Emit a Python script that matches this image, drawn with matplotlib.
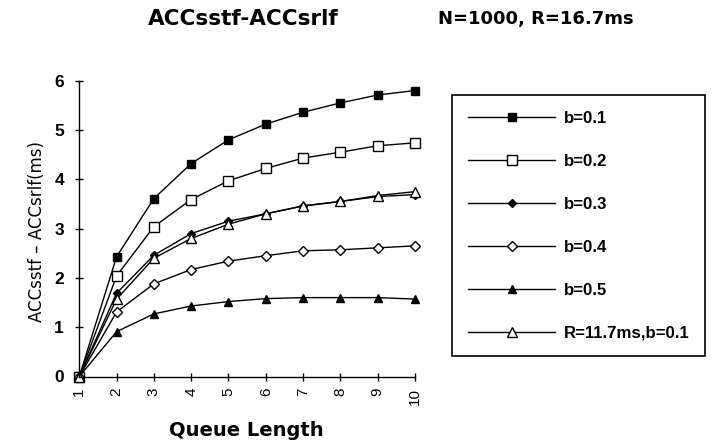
import matplotlib
matplotlib.use("Agg")
import matplotlib.pyplot as plt

# ---- data ----
queue_length = [1, 2, 3, 4, 5, 6, 7, 8, 9, 10]
b01 = [0, 2.43, 3.61, 4.32, 4.80, 5.12, 5.36, 5.55, 5.71, 5.80]
b02 = [0, 2.04, 3.04, 3.59, 3.97, 4.22, 4.43, 4.55, 4.68, 4.74]
b03 = [0, 1.69, 2.46, 2.90, 3.15, 3.30, 3.46, 3.55, 3.65, 3.69]
b04 = [0, 1.31, 1.88, 2.17, 2.34, 2.45, 2.55, 2.57, 2.61, 2.65]
b05 = [0, 0.91, 1.27, 1.43, 1.52, 1.58, 1.60, 1.60, 1.60, 1.57]
r117_b01 = [0, 1.57, 2.40, 2.80, 3.09, 3.30, 3.46, 3.55, 3.67, 3.75]
labels = ["b=0.1", "b=0.2", "b=0.3", "b=0.4", "b=0.5", "R=11.7ms,b=0.1"]
y_ticks = [0, 1, 2, 3, 4, 5, 6]

W, H = 719, 445
fig = plt.figure(figsize=(W / 100, H / 100), dpi=100)
ax = fig.add_axes([79.3 / W, 1 - 376.5 / H, (415 - 79.3) / W, (376.5 - 80.7) / H])

series = [b01, b02, b03, b04, b05, r117_b01]
styles = [
    dict(marker="s", mfc="black", ms=6),
    dict(marker="s", mfc="white", ms=7),
    dict(marker="D", mfc="black", ms=4.5),
    dict(marker="D", mfc="white", ms=5.5),
    dict(marker="^", mfc="black", ms=6),
    dict(marker="^", mfc="white", ms=7),
]
for ys, lab, st in zip(series, labels, styles):
    ax.plot(queue_length, ys, color="black", lw=1.0, mec="black", mew=1.0,
            label=lab, clip_on=False, **st)

ax.set_xlim(1, 10)
ax.set_ylim(0, 6)
ax.set_xticks(queue_length)
ax.set_xticklabels([str(q) for q in queue_length], rotation=90,
                   fontfamily="Liberation Sans", fontsize=11)
ax.set_yticks(y_ticks)
ax.set_yticklabels([str(t) for t in y_ticks], fontfamily="Liberation Sans",
                   fontsize=12.5, fontweight="bold")
ax.tick_params(axis="both", direction="inout", length=6, width=1, color="black")
ax.tick_params(axis="x", pad=5)
ax.tick_params(axis="y", pad=8)
for s in ["top", "right"]:
    ax.spines[s].set_visible(False)
for s in ["left", "bottom"]:
    ax.spines[s].set_linewidth(1.0)

fig.text(37 / W, 1 - 232 / H, "ACCsstf – ACCsrlf(ms)", rotation=90,
         ha="center", va="center", fontfamily="DejaVu Sans", fontsize=12)
fig.text(246 / W, 1 - 431 / H, "Queue Length", ha="center", va="center",
         fontfamily="DejaVu Sans", fontsize=14, fontweight="bold")
fig.text(243 / W, 1 - 19 / H, "ACCsstf-ACCsrlf", ha="center", va="center",
         fontfamily="DejaVu Sans", fontsize=15.5, fontweight="bold")
fig.text(438 / W, 1 - 19 / H, "N=1000, R=16.7ms", ha="left", va="center",
         fontfamily="DejaVu Sans", fontsize=13, fontweight="bold")

leg = ax.legend(loc="upper left", bbox_to_anchor=(452 / W, 1 - 95 / H),
                bbox_transform=fig.transFigure, frameon=True, fancybox=False,
                edgecolor="black", framealpha=1, borderpad=0.95,
                handlelength=5.2, handletextpad=0.5, labelspacing=1.66,
                borderaxespad=0,
                prop=dict(family="Liberation Sans", weight="bold", size=12.1))
leg.get_frame().set_linewidth(1.2)

fig.savefig("out.png", dpi=100)
